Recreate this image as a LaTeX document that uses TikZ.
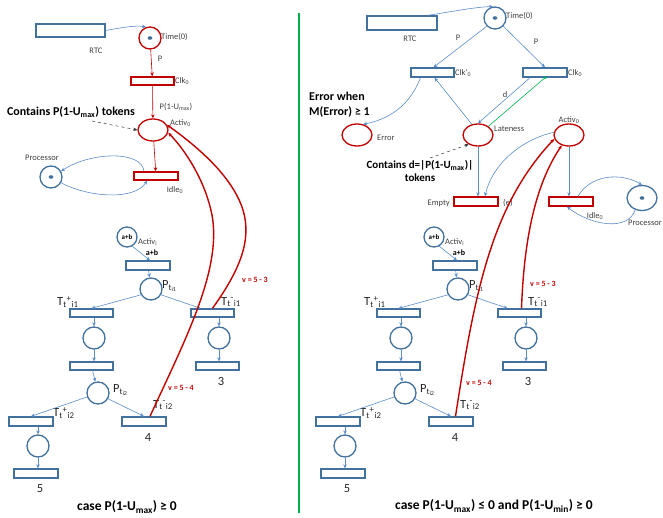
\documentclass[tikz,border=0pt]{standalone}
\usepackage{fontspec}
\setmainfont{Carlito}
\usepackage{xcolor}
\usepackage{tikz}
\usetikzlibrary{arrows.meta,positioning,calc,shapes.geometric}

\definecolor{pnblue}{RGB}{65,113,156}
\definecolor{arcblue}{RGB}{91,140,200}
\definecolor{pnred}{RGB}{192,0,0}
\definecolor{sepgreen}{RGB}{0,176,80}

\begin{document}
\begin{tikzpicture}[x=1pt, y=-1pt, >={Stealth[length=4pt,width=3.5pt]},
  font=\fontsize{8.5}{10}\selectfont,
  bplace/.style={circle, draw=pnblue, line width=1.3pt, minimum size=22pt, inner sep=0pt},
  rell/.style={ellipse, draw=pnred, line width=1.3pt, minimum width=30pt, minimum height=22pt, inner sep=0pt},
  btrans/.style={rectangle, draw=pnblue, line width=1.3pt, minimum width=43pt, minimum height=8pt, inner sep=0pt},
  rtrans/.style={btrans, draw=pnred},
  barc/.style={->, arcblue, line width=0.6pt},
  rarc/.style={->, pnred, line width=0.6pt},
  redlink/.style={->, pnred, line width=1.4pt},
  lbl/.style={inner sep=0pt, text=black!75},
  biglbl/.style={inner sep=0pt, text=black!85, font=\fontsize{12.5}{14}\selectfont},
  note/.style={inner sep=0pt, font=\fontsize{12}{15}\selectfont\bfseries},
  vlbl/.style={inner sep=0pt, text=pnred, font=\fontsize{8}{9}\selectfont\bfseries},
  caption/.style={inner sep=0pt, font=\fontsize{13.5}{16}\selectfont\bfseries}]
  \useasboundingbox (0,0) rectangle (663,518);

  % Separator
  \draw[sepgreen, line width=2.5pt] (299,13) -- (299,513);

  % Left net: clock, activation and processor
  \node[btrans, minimum width=69pt, minimum height=13pt] (rtcL) at (70.5,30.5) {};
  \node[lbl] (rtcLl) at (96,51) {RTC};
  \node[rell, minimum width=22pt] (timeL) at (150,38) {};
  \fill[pnblue] (timeL) ellipse (2.4pt and 1.8pt);
  \node[lbl, anchor=west] (timeLl) at (161,37) {Time(0)};
  \node[rtrans] (clkL) at (152.5,81) {};
  \node[lbl, anchor=west] (clkLl) at (175,81) {Clk\textsubscript{0}};
  \node[rell] (actL) at (153,130) {};
  \node[lbl, anchor=west] (actLl) at (170,123) {Activ\textsubscript{0}};
  \node[rtrans, minimum width=44pt] (idleL) at (156,176) {};
  \node[lbl] (idleLl) at (175,190) {Idle\textsubscript{0}};
  \node[bplace] (procL) at (51,177) {};
  \fill[pnblue] (procL) ellipse (2.4pt and 1.8pt);
  \node[lbl] (procLl) at (42,158) {Processor};
  \node[lbl] (pL) at (160,59) {P};
  \node[lbl] (pumL) at (176,107) {P(1-U\textsubscript{max})};
  \node[note] (noteL) at (71,112) {Contains P(1-U\textsubscript{max}) tokens};
  \coordinate (noteLtip) at (92,121);

  \draw[barc] (rtcL.east) .. controls (120,28) and (135,25) .. (timeL.110);
  \draw[rarc] (timeL) -- (clkL);
  \draw[rarc] (clkL) -- (actL);
  \draw[rarc] (actL) -- (idleL);
  \draw[->, dashed, black!80, line width=0.5pt] (noteLtip) -- (actL.west);
  \draw[barc] ([xshift=-12pt]idleL.north) .. controls (142,150) and (90,152) .. (procL.30);
  \draw[barc] (procL.-30) .. controls (90,198) and (135,200) .. ([xshift=-9pt]idleL.south);

  % Right net: clock, lateness, error and processor
  \node[btrans, minimum width=70pt, minimum height=14pt] (rtcR) at (402,23) {};
  \node[lbl] (rtcRl) at (410,39) {RTC};
  \node[bplace] (timeR) at (495,18) {};
  \fill[pnblue] (timeR) ellipse (2.4pt and 1.8pt);
  \node[lbl, anchor=west] (timeRl) at (506,16) {Time(0)};
  \node[btrans, minimum height=9pt] (clkpR) at (432.5,72.5) {};
  \node[lbl, anchor=west] (clkpRl) at (455,73) {Clk'\textsubscript{0}};
  \node[btrans, minimum width=44pt, minimum height=9pt] (clkR) at (545,72.5) {};
  \node[lbl, anchor=west] (clkRl) at (568,73) {Clk\textsubscript{0}};
  \node[lbl] (pR1) at (458,38) {P};
  \node[lbl] (pR2) at (536,42) {P};
  \node[note, align=left, anchor=west] (errnote) at (309,105) {Error when\\M(Error) ≥ 1};
  \node[rell] (errR) at (357,135) {};
  \node[lbl, anchor=west] (errRl) at (377,138) {Error};
  \node[rell] (latR) at (478,135) {};
  \node[lbl, anchor=west] (latRl) at (494,129) {Lateness};
  \node[lbl] (dR) at (505,95) {d};
  \node[rell] (actR) at (569,135) {};
  \node[lbl] (actRl) at (569,120) {Activ\textsubscript{0}};
  \node[note, align=center, font=\fontsize{11}{12.5}\selectfont\bfseries] (noteR) at (420,171) {Contains d=|P(1-U\textsubscript{max})|\\tokens};
  \coordinate (noteRtip) at (430,158);
  \node[rtrans, minimum width=44pt, minimum height=9pt] (emptyR) at (476,201.5) {};
  \node[lbl, anchor=east] (emptyRl) at (450,203) {Empty};
  \node[lbl, anchor=west] (eRl) at (503,203) {(e)};
  \node[rtrans, minimum width=44pt, minimum height=9pt] (idleR) at (571,201.5) {};
  \node[lbl] (idleRl) at (595,216) {Idle\textsubscript{0}};
  \node[bplace, ellipse, minimum width=30pt, minimum height=25pt] (procR) at (642,198) {};
  \fill[pnblue] (procR) ellipse (2.4pt and 1.8pt);
  \node[lbl, anchor=east] (procRl) at (662,223) {Processor};

  \draw[barc] ([xshift=-10pt]rtcR.north east) .. controls (450,12) and (475,7) .. (timeR.100);
  \draw[barc] (timeR.-135) -- ([xshift=1pt]clkpR.north);
  \draw[barc] (timeR.-45) -- (clkR.north);
  \draw[barc] ([xshift=-12pt]clkpR.south) .. controls (412,100) and (395,118) .. (errR.60);
  \draw[barc] (latR.120) -- ([xshift=2pt]clkpR.south);
  \draw[barc] ([xshift=-15pt]clkR.south) -- (latR.north);
  \draw[sepgreen, line width=0.6pt] (clkR.south) -- (latR.40);
  \fill[sepgreen] (clkR.south) circle (1.6pt);
  \draw[->, dashed, black!80, line width=0.5pt] (noteRtip) -- (latR.-135);
  \draw[barc] (latR) -- (latR |- emptyR.north);
  \draw[barc] (actR.170) .. controls (520,140) and (492,165) .. ([xshift=9pt]emptyR.north);
  \draw[barc] (actR) -- (actR |- idleR.north);
  \draw[barc] ([xshift=7pt]idleR.north) .. controls (590,175) and (620,172) .. (procR.north);
  \draw[barc] (procR.-120) .. controls (628,232) and (590,225) .. ([xshift=-4pt]idleR.south);

  % Task trees (same on both sides)
  \foreach \side/\dx in {L/0, R/307} {
    \begin{scope}[xshift=\dx, name prefix=\side-]
      \node[bplace, minimum size=20pt, font=\fontsize{7}{8}\selectfont\bfseries] (ai) at (127,237) {a+b};
      \node[lbl, anchor=west] (ail) at (138,242) {Activ\textsubscript{i}};
      \node[btrans, minimum width=44pt, minimum height=9pt] (b0) at (148,265.5) {};
      \node[inner sep=0pt, font=\fontsize{8}{9}\selectfont\bfseries] (abl) at (152,253) {a+b};
      \node[bplace] (p1) at (151,289) {};
      \node[biglbl, anchor=west] (p1l) at (162,286) {P\textsubscript{t\textsubscript{i1}}};
      \node[btrans] (tp1) at (91.5,313) {};
      \node[btrans] (tm1) at (212.5,313) {};
      \node[biglbl, anchor=west] (tp1l) at (57,302) {T\textsubscript{t}\textsuperscript{+}\textsubscript{i1}};
      \node[biglbl, anchor=west] (tm1l) at (221,302) {T\textsubscript{t}\textsuperscript{-}\textsubscript{i1}};
      \node[bplace] (c1) at (94,338) {};
      \node[btrans] (b1) at (91.5,366) {};
      \node[bplace] (c2) at (219,338) {};
      \node[btrans] (b3) at (217.5,366) {};
      \node[biglbl] (b3n) at (221,381) {3};
      \node[bplace] (p2) at (98,393) {};
      \node[biglbl, anchor=west] (p2l) at (113,390) {P\textsubscript{t\textsubscript{i2}}};
      \node[btrans, minimum width=44pt, minimum height=9pt] (tp2) at (31,421.5) {};
      \node[btrans, minimum width=44pt, minimum height=9pt] (tm2) at (144,421.5) {};
      \node[biglbl, anchor=west] (tp2l) at (53,413) {T\textsubscript{t}\textsuperscript{+}\textsubscript{i2}};
      \node[biglbl, anchor=west] (tm2l) at (153,405) {T\textsubscript{t}\textsuperscript{-}\textsubscript{i2}};
      \node[biglbl] (tm2n) at (148,437) {4};
      \node[bplace] (c3) at (38,446) {};
      \node[btrans, minimum width=44pt, minimum height=9pt] (b5) at (36,473.5) {};
      \node[biglbl] (b5n) at (40,489) {5};

      \draw[barc] (ai.-60) -- ([xshift=2pt]b0.north);
      \draw[barc] (b0) -- (p1);
      \draw[barc] (p1.-150) -- (tp1.north);
      \draw[barc] (p1.-30) -- ([xshift=-12pt]tm1.north);
      \draw[barc] (c1 |- tp1.south) -- (c1);
      \draw[barc] (c1) -- (c1 |- b1.north);
      \draw[barc] (c2 |- tm1.south) -- (c2);
      \draw[barc] (c2) -- (c2 |- b3.north);
      \draw[barc] (b1) -- (p2);
      \draw[barc] (p2.-160) -- (tp2.north);
      \draw[barc] (p2.-30) -- (tm2.north);
      \draw[barc] (c3 |- tp2.south) -- (c3);
      \draw[barc] (c3) -- (c3 |- b5.north);
    \end{scope}
  }

  % Feedback from the late transitions to the activation place
  \draw[redlink] ([xshift=6pt]L-tm2.north) .. controls (185,340) and (222,270) .. (212,215)
    .. controls (205,180) and (185,150) .. (actL.-10);
  \draw[redlink] (L-tm1.north) .. controls (240,270) and (252,240) .. (243,210)
    .. controls (232,175) and (195,145) .. (actL.20);
  \node[vlbl] (v53L) at (255,280) {v = 5 - 3};
  \node[vlbl] (v54L) at (181,388) {v = 5 - 4};

  \draw[redlink] ([xshift=4.5pt]R-tm2.north) .. controls (475,290) and (492,205) .. (actR.195);
  \draw[redlink] ([xshift=2pt]R-tm1.north) .. controls (524,240) and (535,185) .. (actR.-125);
  \node[vlbl] (v53R) at (543,284) {v = 5 - 3};
  \node[vlbl] (v54R) at (479,383) {v = 5 - 4};

  % Captions
  \node[caption] (capL) at (127,507) {case P(1-U\textsubscript{max}) ≥ 0};
  \node[caption] (capR) at (494,506) {case P(1-U\textsubscript{max}) ≤ 0 and P(1-U\textsubscript{min}) ≥ 0};
\end{tikzpicture}
\end{document}
